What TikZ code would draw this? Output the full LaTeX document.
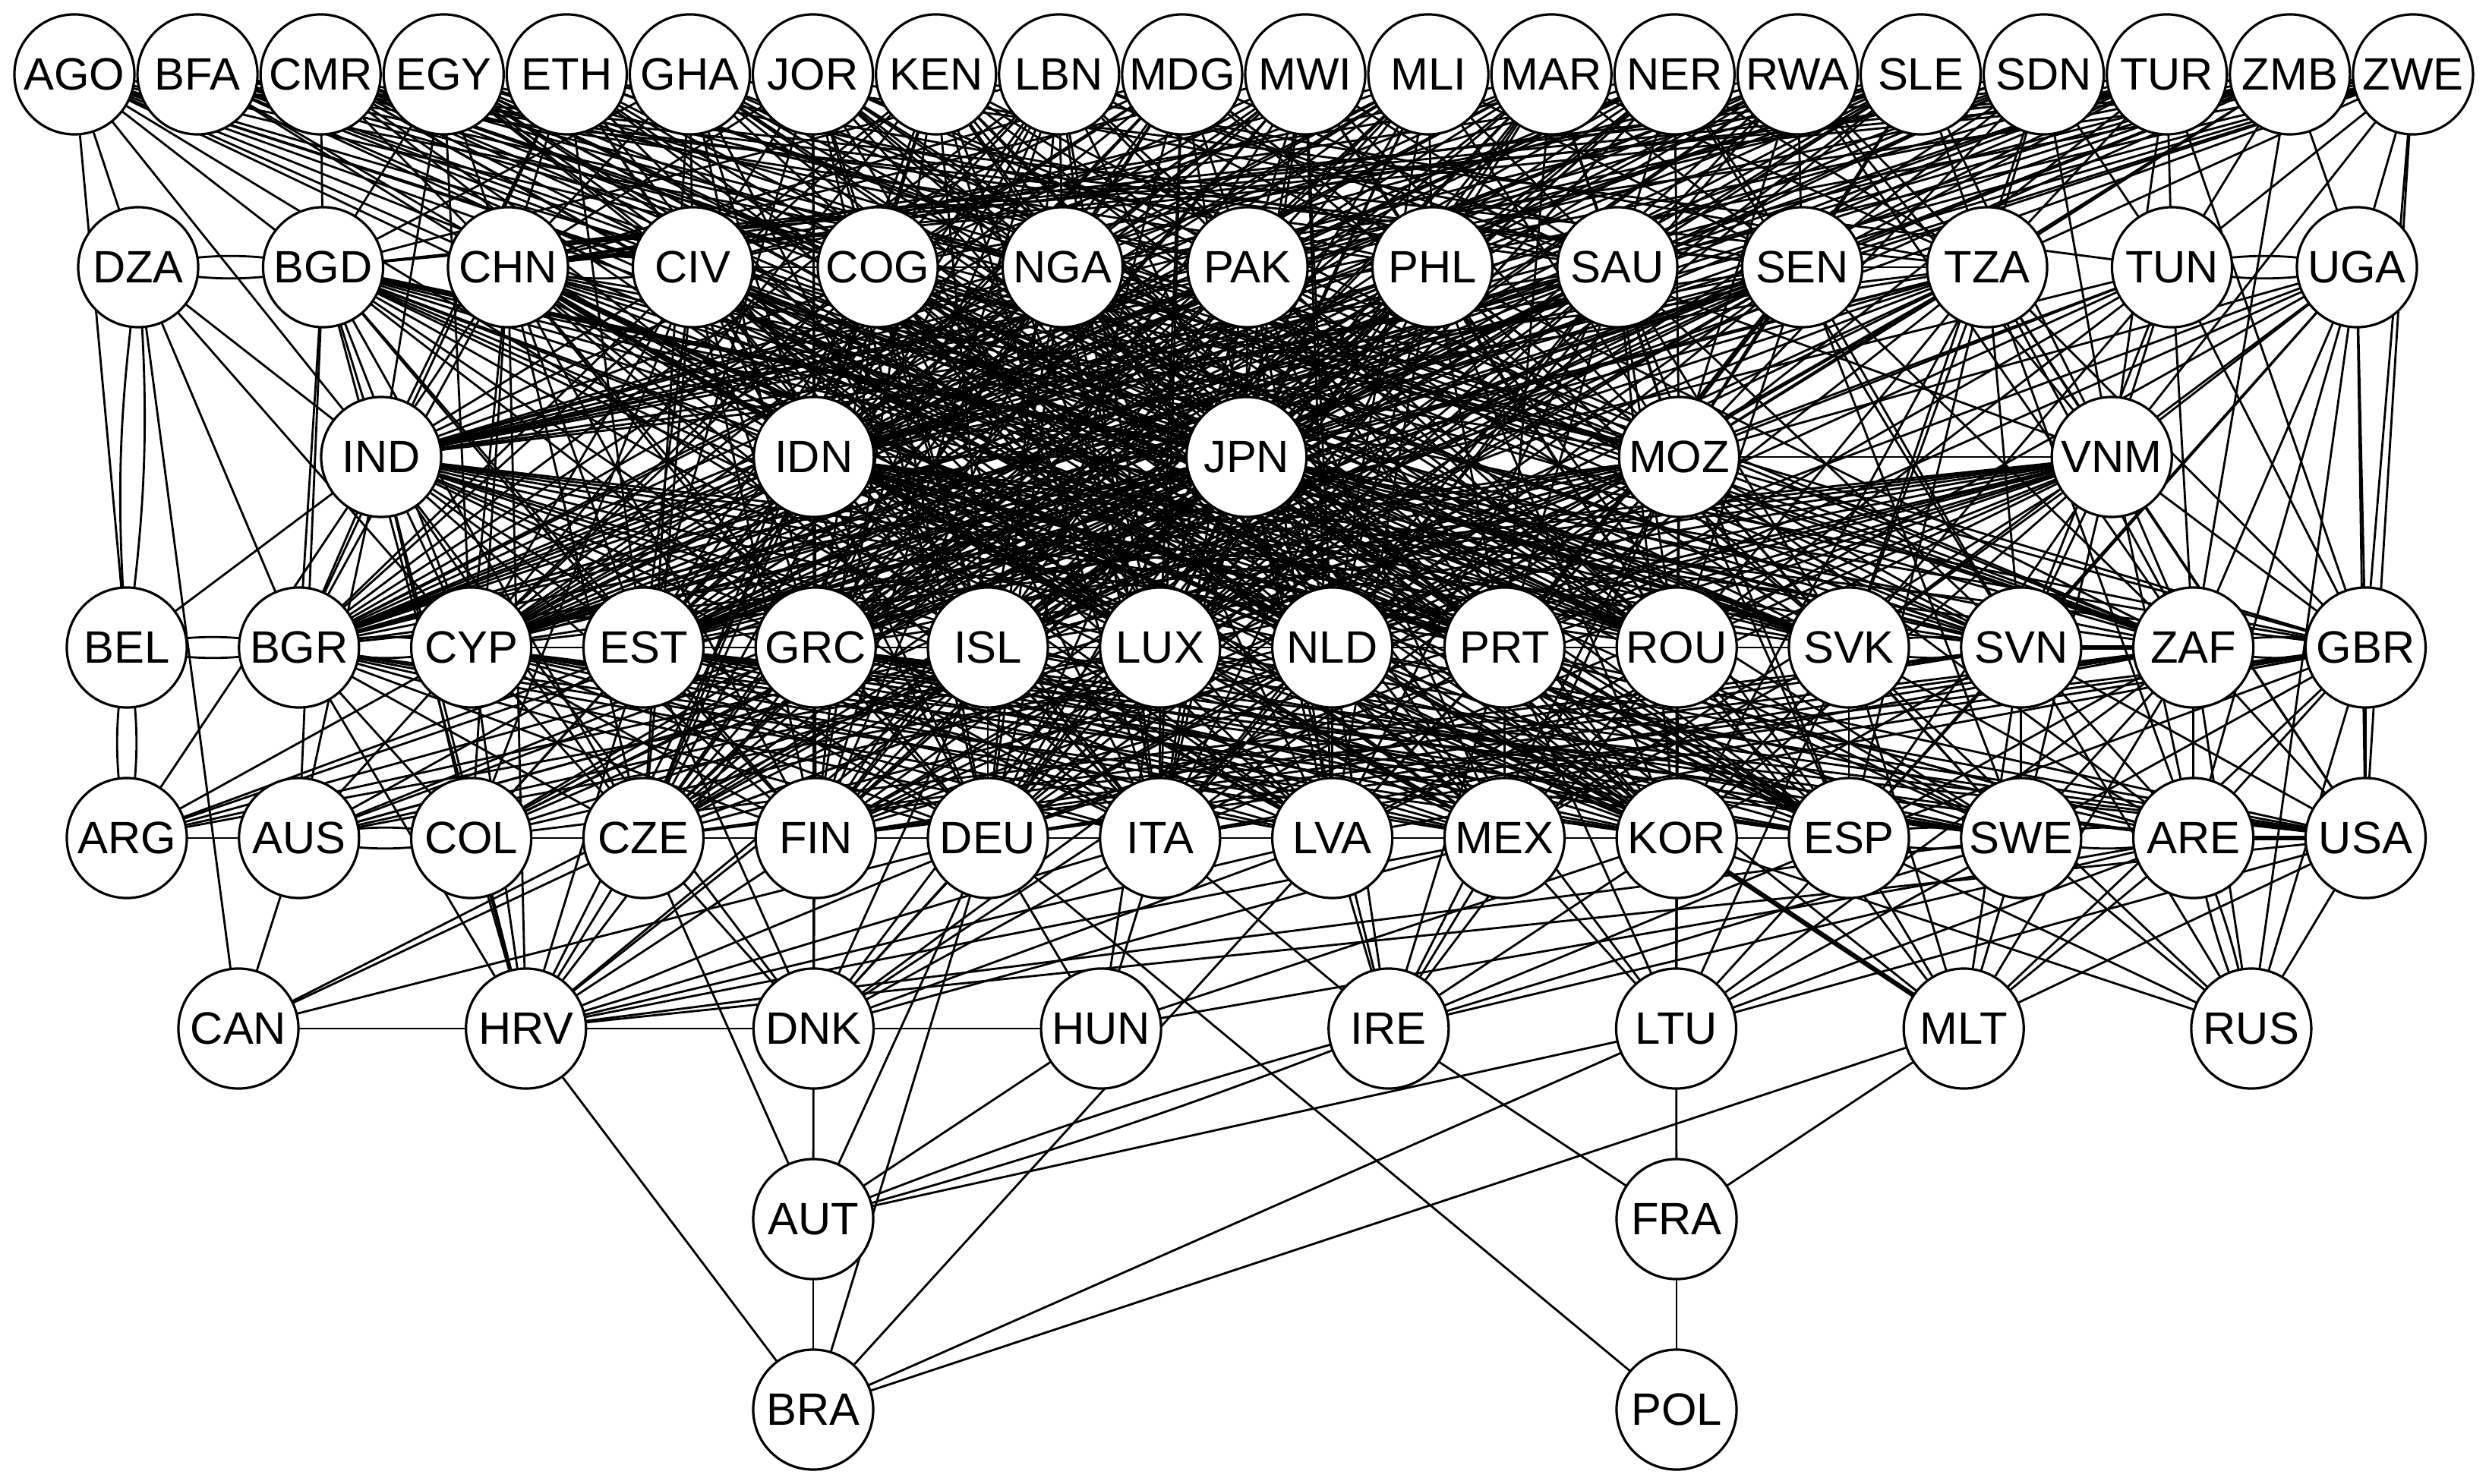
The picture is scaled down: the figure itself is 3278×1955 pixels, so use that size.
\documentclass[tikz,border=0pt]{standalone}
\usepackage{fontspec}
\setmainfont{Liberation Sans}
\usetikzlibrary{backgrounds}
\begin{document}
\begin{tikzpicture}[x=0.01cm,y=-0.01cm,
  cn/.style={circle,draw,line width=0.9pt,fill=white,minimum size=1.58cm,inner sep=0pt,font=\fontsize{17pt}{17pt}\selectfont},
  ed/.style={line width=0.8pt},
  edthick/.style={line width=1.8pt}]
\useasboundingbox (0,0) rectangle (3278,1955);
% row 1
\foreach \n [count=\i from 0] in {AGO,BFA,CMR,EGY,ETH,GHA,JOR,KEN,LBN,MDG,MWI,MLI,MAR,NER,RWA,SLE,SDN,TUR,ZMB,ZWE}
  \node[cn] (\n) at ({98+162.1*\i},98) {\n};
% row 2
\foreach \n [count=\i from 0] in {DZA,BGD,CHN,CIV,COG,NGA,PAK,PHL,SAU,SEN,TZA,TUN,UGA}
  \node[cn] (\n) at ({182+243.5*\i},352) {\n};
% row 3
\foreach \n [count=\i from 0] in {IND,IDN,JPN,MOZ,VNM}
  \node[cn] (\n) at ({502+569.8*\i},602) {\n};
% row 4
\foreach \n [count=\i from 0] in {BEL,BGR,CYP,EST,GRC,ISL,LUX,NLD,PRT,ROU,SVK,SVN,ZAF,GBR}
  \node[cn] (\n) at ({167+226.8*\i},853) {\n};
% row 5
\foreach \n [count=\i from 0] in {ARG,AUS,COL,CZE,FIN,DEU,ITA,LVA,MEX,KOR,ESP,SWE,ARE,USA}
  \node[cn] (\n) at ({167+226.8*\i},1104) {\n};
% row 6
\foreach \n [count=\i from 0] in {CAN,HRV,DNK,HUN,IRE,LTU,MLT,RUS}
  \node[cn] (\n) at ({314+378.7*\i},1355) {\n};
% rows 7, 8
\node[cn] (AUT) at (1071,1606) {AUT};
\node[cn] (FRA) at (2208,1606) {FRA};
\node[cn] (BRA) at (1071,1857) {BRA};
\node[cn] (POL) at (2208,1857) {POL};

\begin{scope}[on background layer]
\fill[white] (0,0) rectangle (3278,1955);
% single edges, source/targets
\foreach \s/\tl in {
 AGO/{DZA,BEL,BGD,IND,CHN,JPN,MOZ,PRT,ROU,NGA,SEN,SVK,SVN,LVA,KOR},
 BFA/{CHN,JPN,SAU,SEN,TZA,ROU,SVK,NGA,PHL,MOZ,ZAF,PRT,ESP,MEX},
 CMR/{BGD,CHN,IDN,COG,NGA,MOZ,ROU,LUX,SVK,SVN,PAK,KOR,NLD,ESP,SWE},
 EGY/{CHN,BGD,IND,PAK,JPN,SVK,CYP,GBR,PRT,NLD,CIV,ESP,ROU,ZAF,LUX,MEX,KOR},
 ETH/{CHN,IND,CIV,IDN,PHL,SAU,EST,ZAF,BGR,MOZ,LVA,NLD,ROU,ITA,KOR,ESP},
 GHA/{CHN,CIV,NGA,IDN,MOZ,SVN,CZE,TUN,BGD,JPN,GRC,MEX,ISL,ROU,KOR,ESP},
 JOR/{CIV,NGA,IDN,PAK,SEN,ZAF,GRC,CHN,COG,JPN,ISL,SWE,LUX,ROU,EST,NLD,PRT,FIN,DEU},
 KEN/{NGA,COG,PAK,TZA,JPN,MOZ,BGR,ISL,CIV,IDN,ROU,CYP,LUX,PRT,CZE,NLD,ITA,KOR,FIN},
 LBN/{COG,PAK,PHL,SAU,IDN,VNM,LUX,CYP,NGA,JPN,EST,BGD,GRC,BGR,ROU,ITA,DEU,FIN,CZE},
 MDG/{NGA,PAK,PHL,IND,MOZ,SVK,EST,COG,JPN,IDN,SAU,CHN,BGR,CYP,LUX,DEU,ITA,CZE,GRC},
 MWI/{PAK,PHL,SAU,JPN,CHN,ROU,GRC,NGA,IDN,MOZ,COG,BGR,CYP,EST,NLD,ITA,LVA,FIN,CZE},
 MLI/{PHL,SAU,SEN,JPN,IDN,BGR,NLD,PAK,NGA,MOZ,CIV,IND,CYP,EST,LUX,DEU,FIN,CZE,GRC},
 MAR/{SAU,SEN,TZA,MOZ,CIV,PRT,ISL,PHL,JPN,IDN,NGA,CYP,GRC,EST,BGR,LUX,DEU,FIN,CZE},
 NER/{SEN,SAU,TZA,IND,MOZ,SVN,EST,PHL,PAK,JPN,IDN,CHN,CYP,GRC,BGR,LUX,ISL,DEU,FIN},
 RWA/{SEN,TZA,PHL,VNM,IDN,BGR,ZAF,SAU,MOZ,JPN,CHN,IND,EST,CYP,GRC,LUX,ISL,ITA},
 SLE/{TZA,SEN,COG,MOZ,JPN,CYP,SAU,VNM,IND,IDN,PAK,BGR,EST,GRC,LUX,ISL,DEU},
 SDN/{TZA,TUN,PAK,MOZ,VNM,SVK,SEN,SAU,IND,CHN,EST,CYP,GRC,LUX},
 TUR/{TUN,TZA,SAU,VNM,IND,GBR,SEN,MOZ,JPN,IDN,BGD,CYP,EST,ISL},
 ZMB/{ZAF,UGA,SEN,CHN,BGD,TZA,MOZ,IND,IDN,EST,GRC,TUN,CYP,BGR,ISL},
 ZWE/{UGA,GBR,TUN,TZA,SEN,VNM,NGA,IDN,USA,CHN,IND,CYP,BGD,EST,GRC,BGR},
 DZA/{BGR,IND,CAN,CYP},
 BGD/{IND,BGR,CYP,EST,GRC,LUX,NLD,JPN,KOR,CZE,IDN,ROU,SVK,FIN,HRV,AUS,PRT,MEX,ITA,LVA,SVN},
 CHN/{IND,IDN,HRV,CYP,EST,ISL,SVK,ROU,FIN,DEU,GBR,MOZ,BGR,GRC,COL,CZE,ITA,PRT,KOR,MEX,LVA,SVN},
 CIV/{IDN,EST,GRC,LUX,PRT,COG,COL,ITA,IND,CYP,ISL,NLD,DEU,MEX,BGR,ROU,SVK,KOR,LVA,FIN,CZE,ESP},
 COG/{IDN,NGA,GRC,ISL,LUX,NLD,CYP,DEU,JPN,EST,PRT,FIN,LVA,ROU,SVK,SVN,KOR,MEX,ITA,CZE,ESP},
 NGA/{IDN,JPN,CYP,ISL,PRT,ROU,SVK,LVA,BGR,IND,GRC,LUX,NLD,EST,KOR,ITA,SVN,ZAF,MEX,CZE,FIN,DEU,ESP},
 PAK/{JPN,IND,IDN,LUX,NLD,ROU,SVN,MEX,EST,GRC,ISL,PRT,CYP,DEU,SVK,BGR,ZAF,KOR,ITA,FIN,CZE,LVA,ESP},
 PHL/{JPN,IDN,MOZ,NLD,PRT,SVK,GRC,KOR,LUX,ISL,ROU,CYP,ESP,LVA,BGR,EST,CZE,ZAF,FIN,DEU,ITA,COL},
 SAU/{MOZ,JPN,ROU,SVK,SVN,ESP,BGR,IDN,IND,NLD,PRT,EST,LUX,KOR,GRC,CYP,CZE,FIN,DEU,ITA,LVA,COL},
 SEN/{MOZ,TZA,IND,IDN,SVN,ZAF,ROU,CYP,SWE,JPN,NLD,LUX,GRC,EST,ISL,BGR,FIN,CZE,DEU,COL},
 TZA/{MOZ,VNM,SVN,ZAF,GBR,SVK,USA,ARE,IND,IDN,JPN,ROU,PRT,ESP,NLD,KOR,CYP,EST,GRC,ISL,LUX,FIN,DEU},
 TUN/{VNM,ZAF,GBR,SVN,ROU,MOZ,SVK,PRT,NLD,LUX,EST},
 UGA/{GBR,RUS,ZAF,SVN,VNM,ARE,SVK,USA,MOZ,ROU,NLD,PRT,ESP},
 IND/{BEL,BGR,CYP,EST,GRC,LUX,COL,AUS,CZE,FIN,NLD,ARG,ISL,DEU,HRV,ITA,PRT,DNK,ROU,SVK,SVN,MEX,KOR,LVA},
 IDN/{GRC,LUX,EST,CYP,NLD,ISL,ROU,DEU,FIN,ITA,CZE,LVA,BGR,SVK,MEX,COL,KOR,SVN,HRV,DNK,JPN,ZAF,ESP,SWE,GBR,ARE},
 JPN/{LUX,NLD,PRT,ROU,GRC,ISL,SVK,SVN,MEX,LVA,KOR,ITA,ESP,CYP,BGR,EST,DEU,FIN,ZAF,CZE,IRE,COL,ARG,AUS,SWE,GBR,HRV,DNK,LTU,MLT},
 MOZ/{ROU,SVK,SVN,PRT,ZAF,NLD,KOR,ESP,MEX,GBR,SWE,LUX,EST,ISL,GRC,LVA,ITA,CYP,ARE,LTU,DEU,BGR,COL,CZE,FIN,AUS,IRE,DNK},
 VNM/{ZAF,GBR,SVN,SVK,USA,ARE,ESP,SWE,ROU,KOR,MOZ,PRT,NLD,MEX,LUX,CYP,EST,GRC,ISL,ITA,LVA,DEU,FIN,CZE,COL,BGR},
 BGR/{CZE,FIN,HRV,DEU,ITA,LVA,MEX,KOR,COL},
 CYP/{EST,ARG,AUS,HRV,CZE,DEU,ITA,FIN,LVA,MEX,KOR,ESP,SWE},
 EST/{GRC,ARG,AUS,HRV,FIN,LVA,MEX,DNK,COL,DEU,KOR,ESP,SWE,ARE,USA},
 GRC/{ISL,ARG,DNK,DEU,KOR,HRV,COL,ITA,MEX,ESP,SWE,USA,AUS},
 ISL/{LUX,DEU,ITA,DNK,HRV,LVA,CZE,ARG,AUS},
 LUX/{NLD,ITA,DNK,KOR,HUN,FIN,MEX,CZE,ESP,ARG,AUS},
 NLD/{PRT,LVA,MEX,IRE,DNK,DEU,KOR,FIN,ITA,AUS},
 PRT/{ROU,MEX,KOR,LTU,IRE,ITA,ESP,LVA,DEU},
 ROU/{SVK,KOR,ESP,MLT,LTU,MEX,SWE,IRE,LVA},
 SVK/{ESP,SWE,RUS,MLT,KOR,ARE,MEX,LTU},
 SVN/{SWE,ARE,USA,MLT,RUS,ESP,KOR,COL,CZE,FIN},
 ZAF/{ARE,USA,RUS,MLT,LTU,SWE,ESP,CZE,FIN,DEU,ITA},
 GBR/{USA,ARE,SWE,ESP,RUS,MLT,FIN,DEU,ITA,LVA},
 ARG/{AUS},
 COL/{CZE,HRV},
 CZE/{FIN,HRV,DNK,AUT,CAN},
 FIN/{DEU,HRV},
 DEU/{ITA,DNK,HUN,AUT,BRA,POL,HRV,CAN},
 ITA/{LVA,HUN,HRV,IRE,DNK},
 LVA/{MEX,IRE,HRV,BRA,DNK},
 MEX/{KOR,IRE,LTU,DNK,HRV},
 KOR/{ESP,LTU,RUS,IRE,HUN},
 ESP/{LTU,MLT,RUS,IRE,CYP,EST},
 SWE/{MLT,LTU,RUS,IRE,HRV,GRC,ISL,LUX},
 ARE/{MLT,LTU,IRE,HUN,NLD,PRT,EST,GRC},
 USA/{RUS,MLT,HRV,LTU,LUX,NLD,ISL,PRT},
 AUS/{CAN},
 CAN/{HRV,HUN,ISL},
 HRV/{DNK,BRA},
 DNK/{AUT},
 HUN/{AUT},
 IRE/{FRA},
 LTU/{FRA,AUT,BRA},
 MLT/{FRA,BRA},
 FRA/{POL},
 AUT/{BRA}}
 { \foreach \t in \tl { \draw[ed] (\s.center) -- (\t.center); } }
% double (multiple) edges
\foreach \a/\b/\g in {DZA/BGD/12, DZA/BEL/6, BEL/BGR/12, BEL/ARG/10, TUN/UGA/12,
  AUS/COL/12, ESP/SWE/12, SWE/ARE/12, ARE/RUS/6, ZAF/GBR/12, SVK/SVN/12,
  BGR/CYP/12, CHN/CIV/12, AUT/IRE/3}
 { \draw[ed] (\a.center) to[bend left=\g] (\b.center);
   \draw[ed] (\a.center) to[bend right=\g] (\b.center); }
% heavy edges
\foreach \a/\b in {SVN/ZAF, ARE/USA, MLT/KOR, BGD/JPN, CHN/LUX, SEN/PRT, IDN/PRT, CHN/NLD}
 { \draw[edthick] (\a.center) -- (\b.center); }
\end{scope}
\end{tikzpicture}
\end{document}
